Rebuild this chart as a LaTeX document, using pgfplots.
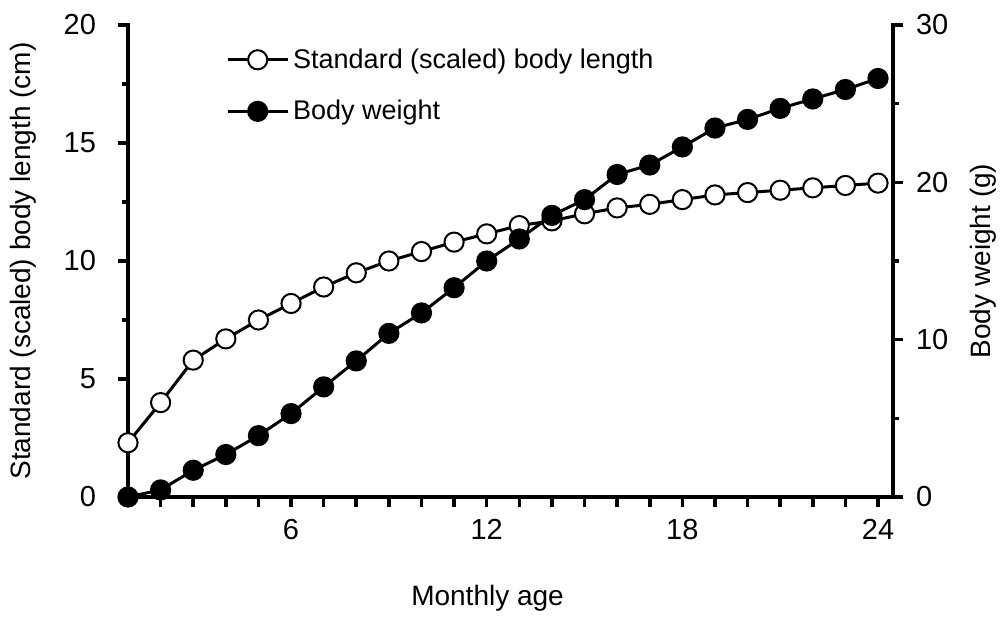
\documentclass[border=0pt]{standalone}
\usepackage{fontspec}
\setmainfont{Liberation Sans}
\usepackage{pgfplots}
\usepackage{pgfplotstable}
\pgfplotsset{compat=1.18}

% monthly age, standard length (cm), body weight (g)
\pgfplotstableread{
m  len   wt
1  2.3   0.0
2  4.0   0.45
3  5.8   1.7
4  6.7   2.7
5  7.5   3.9
6  8.2   5.3
7  8.9   7.0
8  9.5   8.65
9  10.0  10.4
10 10.4  11.7
11 10.8  13.3
12 11.15 15.0
13 11.5  16.4
14 11.7  17.9
15 12.0  18.9
16 12.25 20.5
17 12.4  21.1
18 12.6  22.25
19 12.8  23.45
20 12.9  24.0
21 13.0  24.7
22 13.1  25.3
23 13.2  25.9
24 13.3  26.6
}\growth

\pgfplotsset{
  base/.style={
    width=382.5pt, height=236pt, scale only axis,
    xmin=1, xmax=24.46,
    clip=false,
    tick align=outside,
    major tick length=5pt, minor tick length=3pt,
    axis line style={line width=1.8pt, line cap=rect},
    every tick/.style={line width=1.8pt, black},
    every minor tick/.style={line width=1.8pt, black},
    tick label style={font=\fontsize{14.5}{17}\selectfont},
    label style={font=\fontsize{14}{17}\selectfont},
    /pgf/number format/assume math mode=true,
  },
}

\begin{document}
\begin{tikzpicture}
\begin{axis}[
  base, name=ax1,
  axis x line*=bottom, axis y line*=left,
  ymin=0, ymax=20,
  xtick={2,...,24},
  xticklabels={,,,,6,,,,,,12,,,,,,18,,,,,,24},
  xticklabel style={yshift=-2.7pt},
  ytick={0,5,10,15,20},
  minor ytick={2.5,7.5,12.5,17.5},
  yticklabel style={xshift=-7.5pt},
  xlabel={Monthly age},
  xlabel style={at={(axis description cs:0.47,-0.1716)}, anchor=north},
  ylabel={Standard (scaled) body length (cm)},
  ylabel style={at={(axis description cs:-0.11,0.5)}, anchor=south},
  legend style={draw=none, fill=none, at={(axis description cs:0.12,0.968)},
    anchor=north west, font=\fontsize{13.5}{16}\selectfont, row sep=10.5pt,
    cells={anchor=west}},
  legend image code/.code={\draw[mark repeat=2,mark phase=2] plot coordinates {(0pt,0pt)(15pt,0pt)(30pt,0pt)};},
]
\addplot[black, line width=1.5pt, mark=*, mark size=4.8pt,
  mark options={fill=white, line width=1pt}] table[x=m, y=len] {\growth};
\addlegendentry{Standard (scaled) body length}
\addlegendimage{black, line width=1.5pt, mark=*, mark size=4.8pt,
  mark options={fill=black, line width=1pt}}
\addlegendentry{Body weight}
\end{axis}

\begin{axis}[
  base,
  axis x line=none, axis y line*=right,
  ymin=0, ymax=30,
  ytick={0,10,20,30},
  minor ytick={5,15,25},
  yticklabel style={xshift=3pt},
  ylabel={Body weight (g)},
  ylabel style={at={(axis description cs:1.0915,0.5)}, anchor=north, rotate=0},
]
\addplot[black, line width=1.5pt, mark=*, mark size=4.8pt,
  mark options={fill=black, line width=1pt}] table[x=m, y=wt] {\growth};
\end{axis}

\pgfresetboundingbox
\path (ax1.south west) ++(-64pt,-59.5pt) rectangle ++(503pt,308pt);
\end{tikzpicture}
\end{document}
